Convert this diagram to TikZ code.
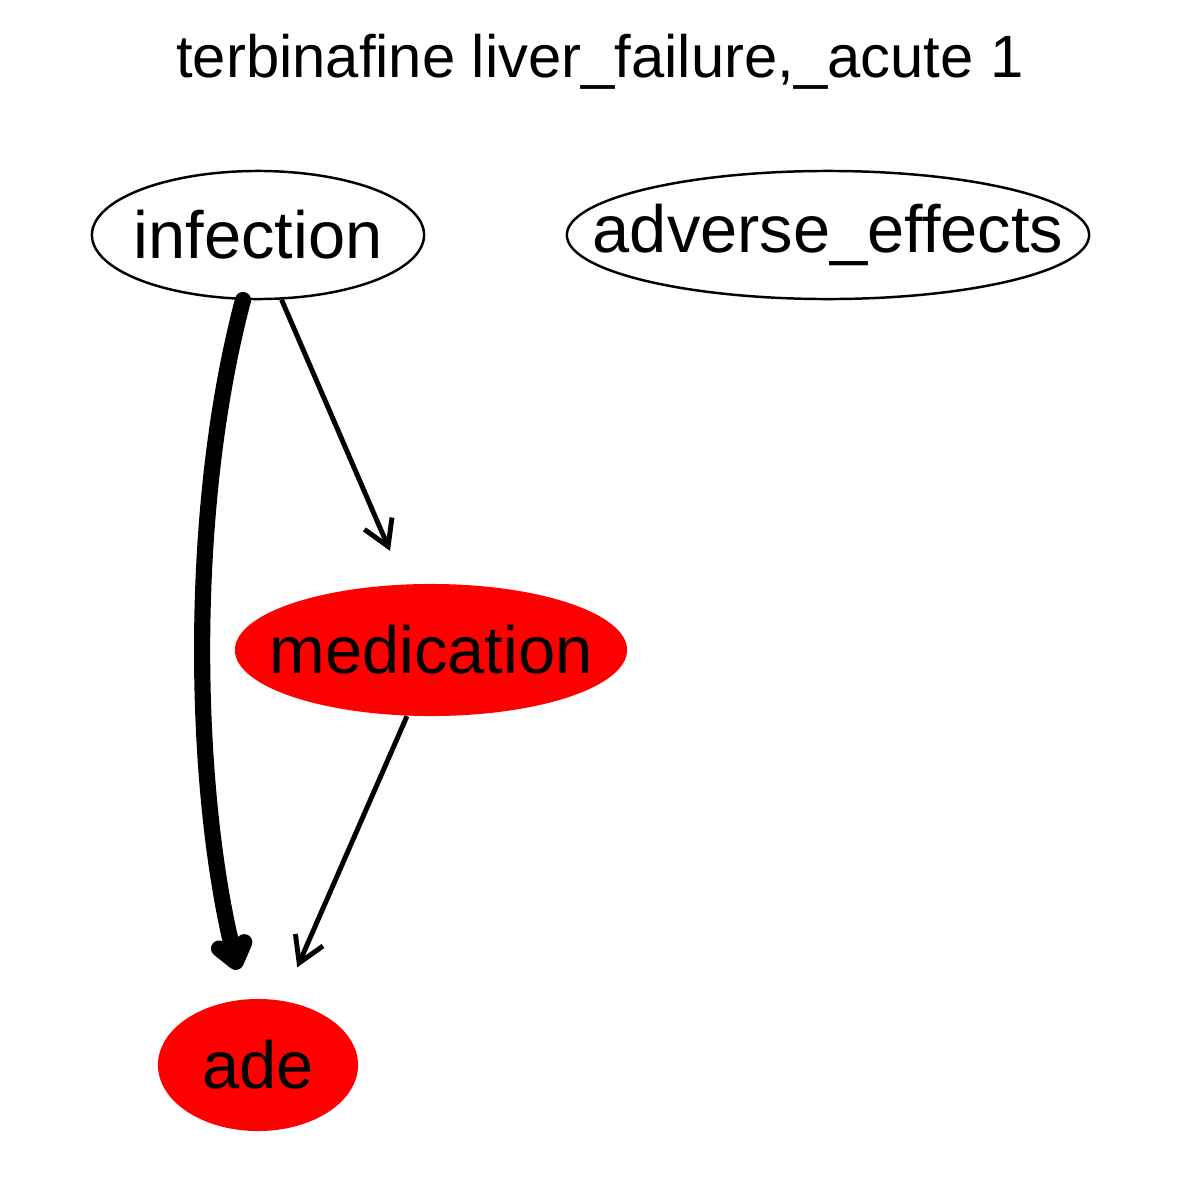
\documentclass[tikz,border=0pt]{standalone}
\usepackage{fontspec}
\setmainfont{Liberation Sans}
\usetikzlibrary{arrows.meta,shapes.geometric}
\definecolor{adeRed}{HTML}{FF0000}

\begin{document}
\begin{tikzpicture}[x=0.01cm,y=-0.01cm,>=Latex]
  \tikzset{
    term/.style={ellipse,inner sep=0pt,font=\fontsize{19}{22}\selectfont},
    plain/.style={term,draw=black,line width=.7pt,fill=white},
    hit/.style={term,fill=adeRed},
    edge/.style={draw=black,line width=1.4pt,-{Straight Barb[length=.25cm,width=.3cm]}},
    heavy/.style={draw=black,line width=4.6pt,line cap=round,-{Straight Barb[length=.17cm,width=.26cm,line cap=round,line join=round]}}
  }
  \useasboundingbox (0,0) rectangle (1200,1200);
  \node[font=\fontsize{17}{20}\selectfont] (title) at (600,62) {terbinafine liver\_failure,\_acute 1};
  \node[plain,minimum width=3.32cm,minimum height=1.28cm] (infection) at (258,235) {\makebox[0pt]{infection}};
  \node[plain,minimum width=5.22cm,minimum height=1.28cm] (adverse) at (828,235) {\makebox[0pt]{adverse\_effects}};
  \node[hit,minimum width=3.92cm,minimum height=1.32cm] (medication) at (431,650) {\makebox[0pt]{medication}};
  \node[hit,minimum width=2cm,minimum height=1.32cm] (ade) at (258,1065) {\makebox[0pt]{ade}};
  \draw[heavy,shorten >=.3cm] (infection.257) .. controls (185,520) and (195,800) .. (ade.101);
  \draw[edge,shorten >=.36cm] (infection.290) -- (medication.112);
  \draw[edge,shorten >=.36cm] (medication.250) -- (ade.69);
\end{tikzpicture}
\end{document}
